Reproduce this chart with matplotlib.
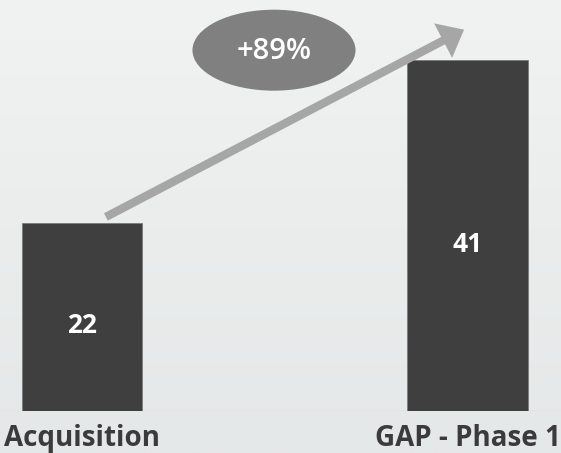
import numpy as np
import matplotlib
matplotlib.use("Agg")
import matplotlib.pyplot as plt
from matplotlib.patches import Ellipse

# --------------------------------------------------
# Data
# --------------------------------------------------
categories = ["Acquisition", "GAP - Phase 1"]
values = [22, 41]
change_label = "+89%"

plt.rcParams["font.family"] = ["Open Sans", "DejaVu Sans"]

fig = plt.figure(figsize=(5.61, 4.53), dpi=100)

# --------------------------------------------------
# Background gradient
# --------------------------------------------------
bg = fig.add_axes([0, 0, 1, 1], zorder=0)
grad = np.linspace(0, 1, 256).reshape(-1, 1)
top = np.array([0xf1, 0xf2, 0xf2]) / 255
bottom = np.array([0xe5, 0xe8, 0xe8]) / 255
img = top + (bottom - top) * grad[:, :, None]
bg.imshow(img, aspect="auto", extent=[0, 1, 0, 1])
bg.axis("off")

# --------------------------------------------------
# Bars
# --------------------------------------------------
ax = fig.add_axes([0, 42 / 453, 1, 411 / 453], zorder=1)
ax.patch.set_alpha(0)

x = np.arange(len(categories))
ax.bar(x, values, width=0.3126, color="#3f3f3f", edgecolor="#7a7a7a", linewidth=0.6)

ax.set_xlim(-0.2127, 1.2425)
ax.set_ylim(0, 48.07)
ax.axis("off")

for xi, v in zip(x, values):
    ax.text(xi, v / 2 - 1.0, str(v), ha="center", va="center", color="white",
            fontsize=19, fontweight="bold")

for xi, name in zip(x, categories):
    ax.text(xi, -0.084, name, transform=ax.get_xaxis_transform(),
            ha="center", va="baseline", color="#3b3b3b",
            fontsize=20, fontweight="bold", clip_on=False)

# baseline separator
ax.axhline(0, color="#dedede", linewidth=1, zorder=0)

# --------------------------------------------------
# Growth arrow and bubble
# --------------------------------------------------
ax.annotate("", xy=(0.991, 44.6), xytext=(0.062, 22.7),
            arrowprops=dict(facecolor="#a6a6a6", edgecolor="none",
                            width=6, headwidth=28, headlength=17),
            zorder=3)

ax.add_patch(Ellipse((0.498, 42.2), 0.423, 9.47, facecolor="#808080",
                     edgecolor="none", zorder=4))
ax.text(0.498, 42.0, change_label, ha="center", va="center", color="white",
        fontsize=21, fontweight="semibold", zorder=5)

plt.savefig("out.png", dpi=100)
plt.close()
